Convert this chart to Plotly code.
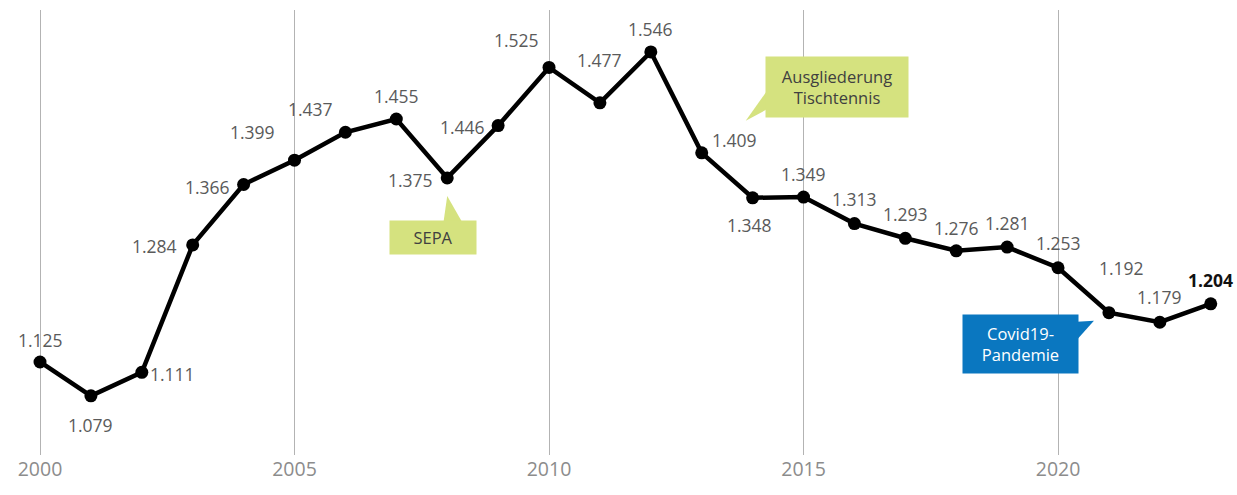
import plotly.graph_objects as go

years = list(range(2000, 2024))
values = [1.125, 1.079, 1.111, 1.284, 1.366, 1.399, 1.437, 1.455, 1.375, 1.446,
          1.525, 1.477, 1.546, 1.409, 1.348, 1.349, 1.313, 1.293, 1.276, 1.281,
          1.253, 1.192, 1.179, 1.204]
labels = [f"{v:.3f}" for v in values]
# label offsets (px) relative to each point
label_dx = [0, 0, 31, -38, -36, -42, -35, 0, -37, -36, -33, 0, 0, 33, -3, 0, 0, 0, 0, 0, 0, 13, 0, 0]
label_dy = [22, -29, -2, -1, -2, 28, 23, 23, -2, -1, 27, 43, 23, 13, -27, 23, 25, 24, 23, 24, 25, 45, 25, 24]

FONT = "Open Sans"
fig = go.Figure()
fig.add_trace(go.Scatter(
    x=years, y=values, mode="lines+markers",
    line=dict(color="black", width=4.5),
    marker=dict(color="black", size=13),
    hoverinfo="skip", showlegend=False,
))

anns = []
for i, (yr, v, t) in enumerate(zip(years, values, labels)):
    last = i == len(years) - 1
    anns.append(dict(
        x=yr, y=v, xref="x", yref="y", text=f"<b>{t}</b>" if last else t,
        showarrow=False, xshift=label_dx[i], yshift=label_dy[i],
        font=dict(family=FONT, size=17.5, color="#111111" if last else "#5a5a5a"),
    ))

GREEN = "#d5e27f"
BLUE = "#0a77c0"
callouts = [
    # year, text, box dx, dy, w, h, bg, fg, triangle path (pixel offsets from point)
    (2008, "SEPA", -14, -60, 86, 33, GREEN, "#404040",
     "M -4,-46 L 16,-46 L 0,-18 Z"),
    (2013, "Ausgliederung<br>Tischtennis", 135, 66, 142, 60, GREEN, "#404040",
     "M 66,63 L 66,44 L 44,32 Z"),
    (2021, "Covid19-<br>Pandemie", -88, -31, 115, 58, BLUE, "#ffffff",
     "M -32,-9 L -32,-27 L -15,-8 Z"),
]
shapes = []
for yr, txt, dx, dy, w, h, bg, fg, path in callouts:
    v = values[years.index(yr)]
    shapes.append(dict(type="path", xref="x", yref="y", xsizemode="pixel", ysizemode="pixel",
                       xanchor=yr, yanchor=v, path=path, fillcolor=bg, line=dict(width=0),
                       layer="above"))
    anns.append(dict(x=yr, y=v, xref="x", yref="y", text=txt, showarrow=False,
                     xshift=dx, yshift=dy, width=w, height=h, bgcolor=bg,
                     borderpad=0, align="center", valign="middle",
                     font=dict(family=FONT, size=16.5, color=fg)))

fig.update_layout(
    width=1237, height=495,
    margin=dict(l=0, r=0, t=10, b=40),
    plot_bgcolor="white", paper_bgcolor="white",
    annotations=anns, shapes=shapes,
    xaxis=dict(range=[1999.214, 2023.516], tick0=2000, dtick=5, showgrid=True,
               gridcolor="#b3b3b3", gridwidth=1, zeroline=False, showline=False,
               ticks="", tickfont=dict(family=FONT, size=19.5, color="#8c8c8c")),
    yaxis=dict(range=[0.9987, 1.603], visible=False, showgrid=False),
)
fig.write_html("out.html")
